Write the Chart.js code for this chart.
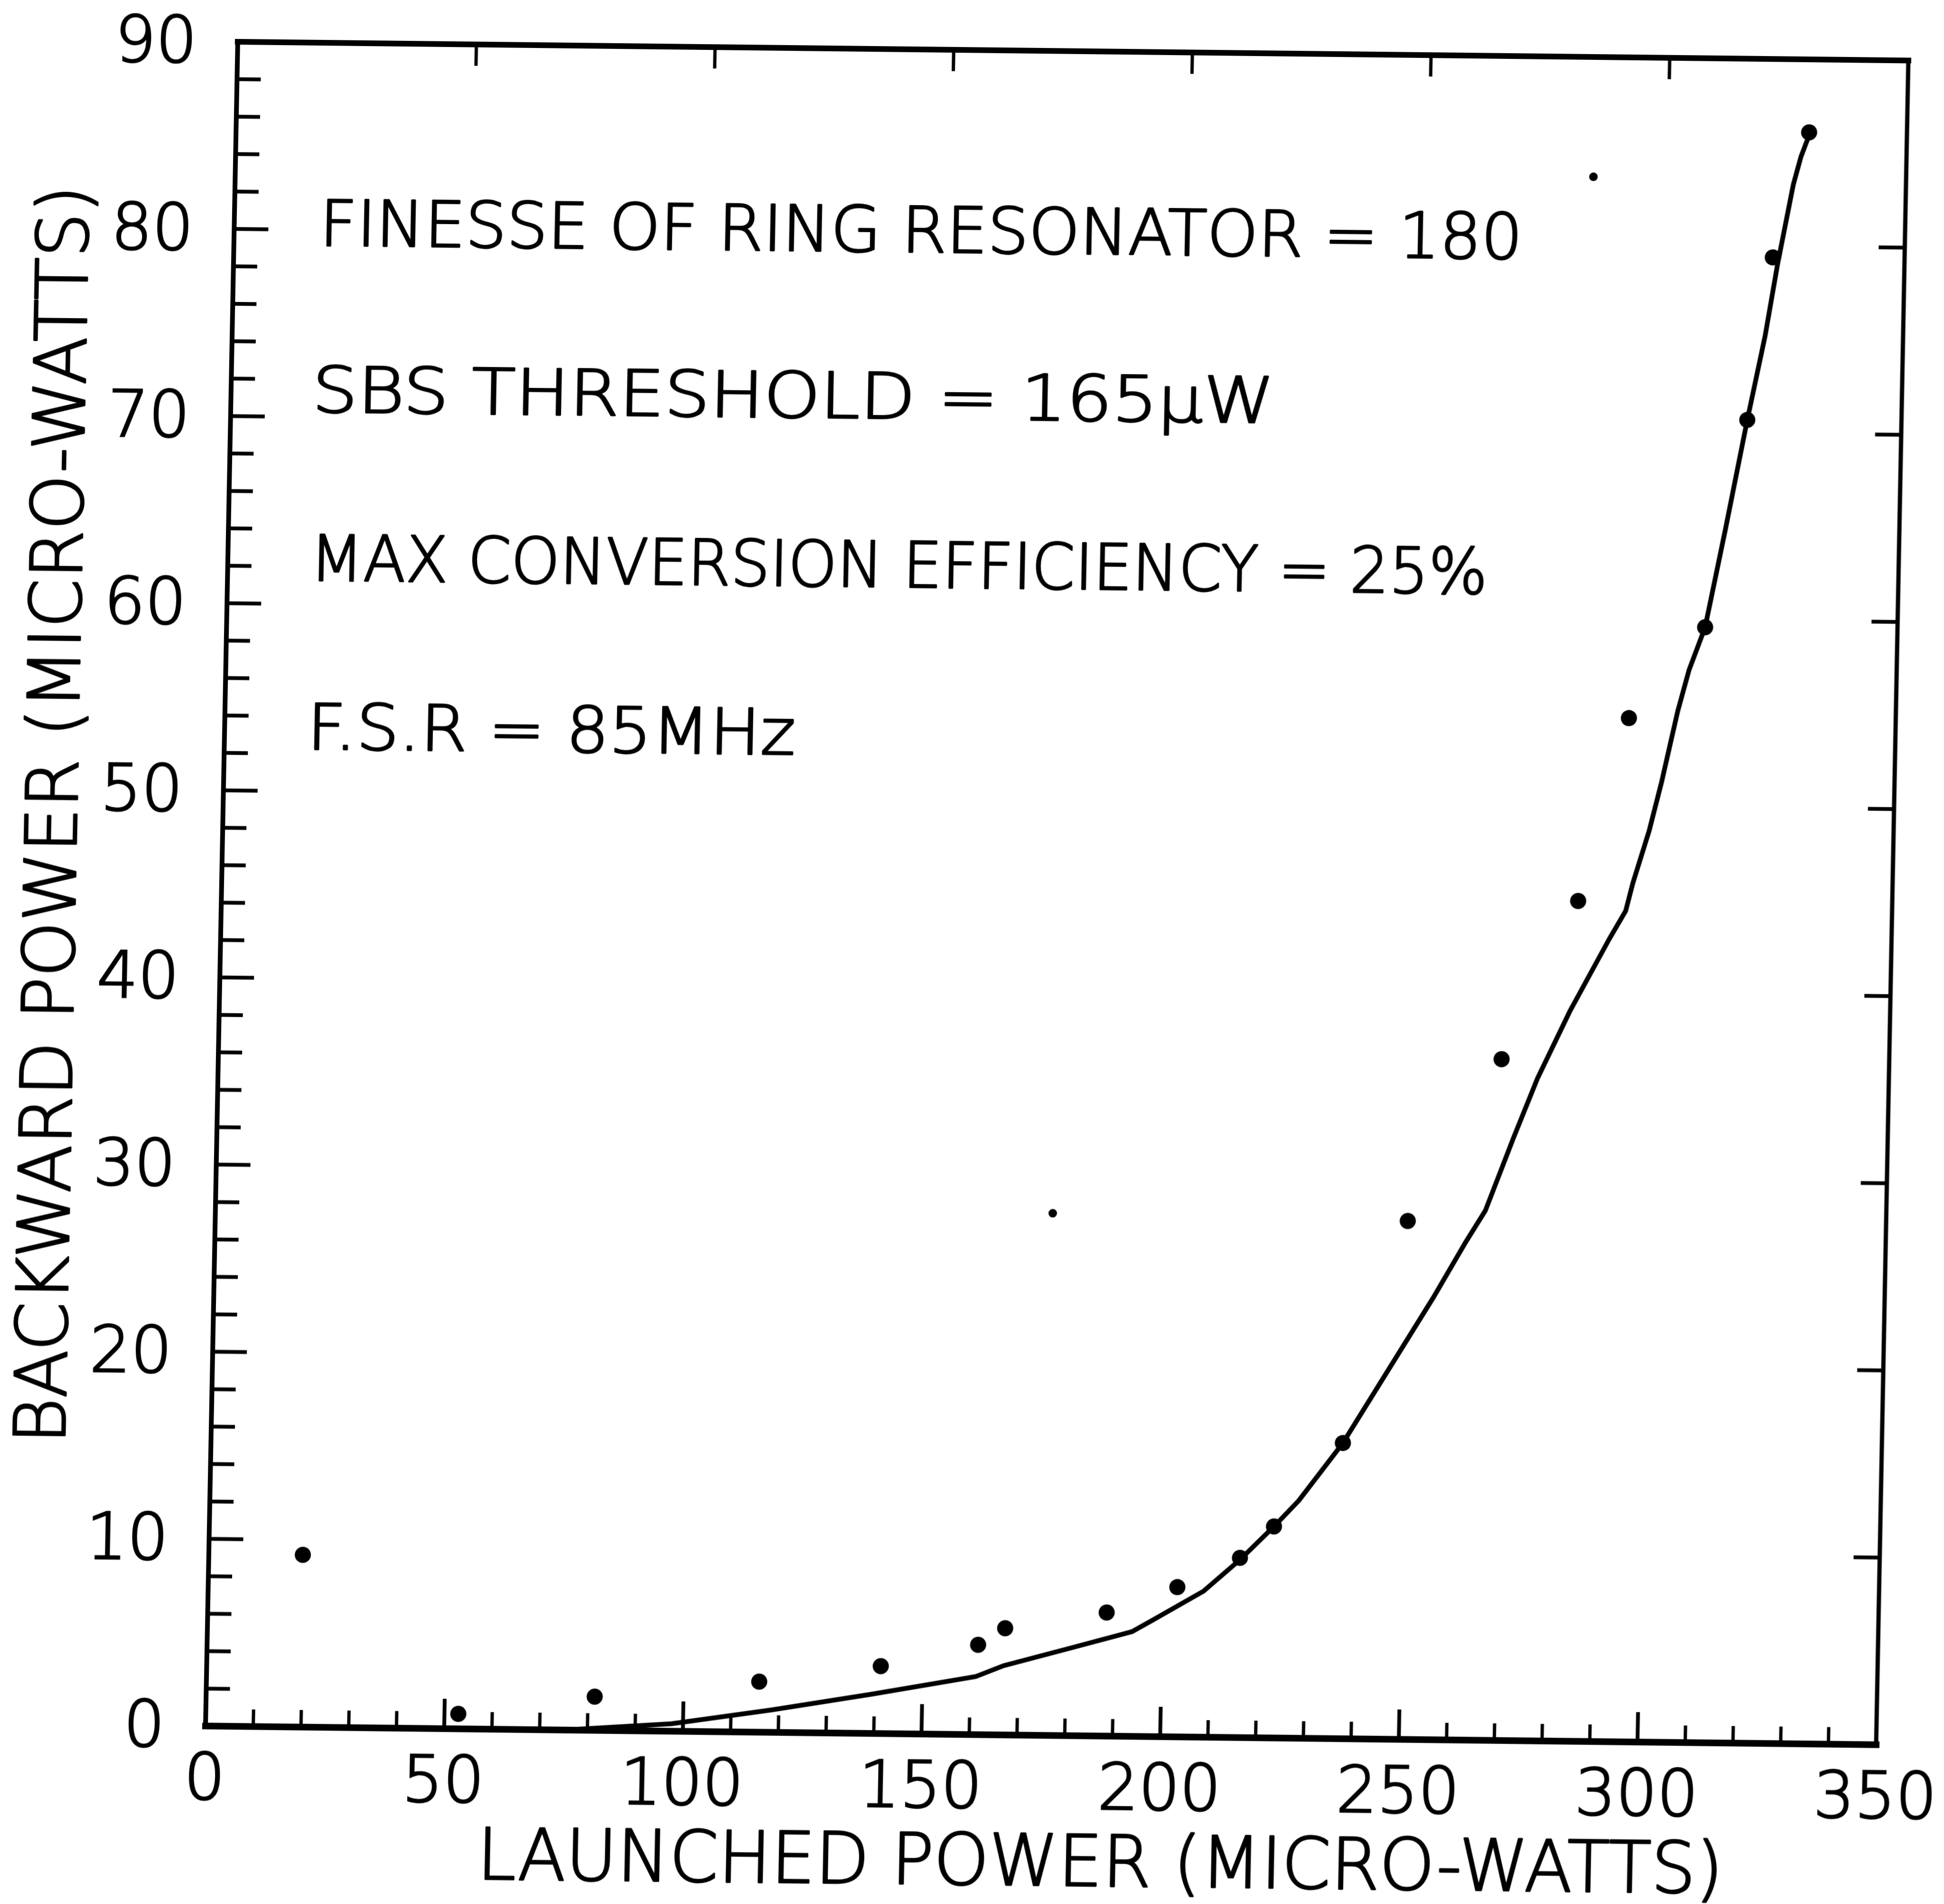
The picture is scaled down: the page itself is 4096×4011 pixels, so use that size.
<!DOCTYPE html>
<html>
<head>
<meta charset="utf-8">
<script src="https://cdn.jsdelivr.net/npm/chart.js@4.4.1/dist/chart.umd.min.js"></script>
<style>
  html, body { margin: 0; padding: 0; background: #fff; }
  /* the scanned figure is slightly tilted/sheared; mimic it on the whole canvas */
  #wrap {
    width: 4096px; height: 4011px; position: relative;
    transform-origin: 433px 3636px;
    transform: matrix(1, 0.0112, -0.01914, 1, 0, 0);
  }
</style>
</head>
<body>
<div id="wrap"><canvas id="chart"></canvas></div>
<script>
// Backward (SBS) power vs launched power, fibre ring resonator

const X_MAJOR = [0, 50, 100, 150, 200, 250, 300, 350];
const X_MINOR = [10, 20, 30, 40, 60, 70, 80, 90, 110, 120, 130, 140, 160, 170, 180, 190,
                 210, 220, 230, 240, 260, 270, 280, 290, 310, 320, 330, 340];
const Y_MAJOR = [0, 10, 20, 30, 40, 50, 60, 70, 80, 90];
const Y_MINOR = [2, 4, 6, 8, 12, 14, 16, 18, 22, 24, 26, 28, 32, 34, 36, 38, 42, 44, 46, 48,
                 52, 54, 56, 58, 62, 64, 66, 68, 72, 74, 76, 78, 82, 84, 86, 88];

// theoretical curve (solid line)
const curveX = [75, 97.6, 118.5, 139.4, 161.1, 166.9, 181.1, 193.7, 197.8, 208.5, 216.0, 223.0,
                228.1, 237.1, 255.4, 262.0, 266.0, 271.6, 276.4, 282.9, 290.9, 294.2, 295.6,
                298.8, 301.2, 304.3, 306.5, 309.7, 313.6, 317.7, 321.1, 323.4, 326.4, 327.9, 329.3];
const curveY = [0, 0.4, 1.2, 2.1, 3.1, 3.7, 4.7, 5.6, 6.2, 7.8, 9.5, 11.3,
                12.7, 15.8, 23.6, 26.6, 28.3, 32.2, 35.4, 39.0, 42.9, 44.4, 45.9,
                48.7, 51.3, 55.1, 57.3, 59.6, 64.9, 70.7, 75.2, 79.0, 83.3, 84.8, 85.8];

// measured points
const measX = [19.7, 52.9, 81.4, 115.8, 141.2, 161.5, 167.1, 188.3, 203.0, 216.0,
               223.0, 237.1, 249.8, 268.8, 284.2, 294.1, 309.7, 317.7, 322.4, 329.5];
const measY = [9.2, 0.8, 1.8, 2.7, 3.6, 4.8, 5.7, 6.6, 8.0, 9.6,
               11.3, 15.8, 27.7, 36.4, 44.9, 54.7, 59.6, 70.7, 79.4, 86.1];

// small specks on the scan
const speckX = [284.5, 175.4, -3.4];
const speckY = [83.6, 27.9, 86.5];

const X_TITLE = 'LAUNCHED POWER (MICRO-WATTS)';
const Y_TITLE = 'BACKWARD POWER (MICRO-WATTS)';
const NOTES = [
    'FINESSE OF RING RESONATOR = 180',
    'SBS THRESHOLD = 165\u03BCW',
    'MAX CONVERSION EFFICIENCY = 25%',
    'F.S.R = 85MHz'
];

const FONT = '"DejaVu Sans", "Liberation Sans", sans-serif';
const WEIGHT = '200';
const TEXT_STROKE = 3.5;   // thickens the light face a little, like the plotter pen

function pairs(xs, ys) {
    return xs.map((x, i) => ({ x, y: ys[i] }));
}

// text squeezed/stretched to a given width; left edge at x (or centred if rotated), caps centred on y
function fitText(ctx, text, x, y, width, size, rotate) {
    ctx.save();
    ctx.font = WEIGHT + ' ' + size + 'px ' + FONT;
    ctx.textBaseline = 'alphabetic';
    ctx.textAlign = 'left';
    ctx.lineJoin = 'round';
    ctx.lineWidth = TEXT_STROKE;
    const w = ctx.measureText(text).width;
    ctx.translate(x, y);
    if (rotate) ctx.rotate(-Math.PI / 2);
    ctx.scale(width / w, 1);
    const tx = rotate ? -w / 2 : 0;
    const ty = size * 0.729 / 2;
    ctx.fillText(text, tx, ty);
    ctx.strokeText(text, tx, ty);
    ctx.restore();
}

function seg(ctx, x1, y1, x2, y2, lw) {
    ctx.lineWidth = lw;
    ctx.beginPath();
    ctx.moveTo(x1, y1);
    ctx.lineTo(x2, y2);
    ctx.stroke();
}

const frameAndText = {
    id: 'frameAndText',
    afterDatasetsDraw(chart, args, opts) {
        const { ctx, chartArea: a, scales: { x, y } } = chart;
        ctx.save();
        ctx.strokeStyle = '#000';
        ctx.fillStyle = '#000';

        // box
        ctx.lineCap = 'square';
        seg(ctx, a.left, a.bottom, a.right, a.bottom, 14);
        seg(ctx, a.left, a.top, a.left, a.bottom, 10);
        seg(ctx, a.left, a.top, a.right, a.top, 12);
        seg(ctx, a.right, a.top, a.right, a.bottom, 9);

        // inward ticks
        ctx.lineCap = 'butt';
        Y_MINOR.forEach(v => { const p = y.getPixelForValue(v); seg(ctx, a.left, p, a.left + 50, p, 8); });
        Y_MAJOR.slice(1, -1).forEach(v => {
            const p = y.getPixelForValue(v);
            seg(ctx, a.left, p, a.left + 72, p, 8);
            seg(ctx, a.right, p, a.right - 55, p, 8);
        });
        X_MINOR.forEach(v => { const p = x.getPixelForValue(v); seg(ctx, p, a.bottom, p, a.bottom - 36, 7); });
        X_MAJOR.slice(1, -1).forEach(v => {
            const p = x.getPixelForValue(v);
            seg(ctx, p, a.bottom, p, a.bottom - 63, 8);
            seg(ctx, p, a.top, p, a.top + 45, 7);
        });

        // axis titles
        fitText(ctx, X_TITLE, a.left + opts.xTitle.dx - opts.xTitle.w / 2, a.bottom + opts.xTitle.dy,
                opts.xTitle.w, opts.titleSize, false);
        fitText(ctx, Y_TITLE, a.left + opts.yTitle.dx, a.top + opts.yTitle.dy,
                opts.yTitle.w, opts.titleSize, true);

        // parameter notes inside the plot
        NOTES.forEach((t, i) => {
            const n = opts.notes[i];
            fitText(ctx, t, x.getPixelForValue(n.x), y.getPixelForValue(n.y), n.w, opts.noteSize, false);
        });
        ctx.restore();
    }
};

const tickFont = { family: FONT, size: 136, weight: WEIGHT, lineHeight: 1 };

new Chart(document.getElementById('chart'), {
    type: 'scatter',
    data: {
        datasets: [
            {
                label: 'theory',
                data: pairs(curveX, curveY),
                showLine: true,
                tension: 0,
                borderColor: '#000',
                borderWidth: 10,
                pointRadius: 0
            },
            {
                label: 'measured',
                data: pairs(measX, measY),
                showLine: false,
                pointRadius: 17,
                pointBorderWidth: 0,
                pointBackgroundColor: '#000'
            },
            {
                label: 'specks',
                data: pairs(speckX, speckY),
                showLine: false,
                clip: false,
                pointRadius: 9,
                pointBorderWidth: 0,
                pointBackgroundColor: '#000'
            }
        ]
    },
    options: {
        responsive: true,
        maintainAspectRatio: false,
        animation: false,
        devicePixelRatio: 1,
        layout: { padding: { top: 88, right: 143, left: 0, bottom: 0 } },
        plugins: {
            legend: { display: false },
            tooltip: { enabled: false },
            frameAndText: {
                titleSize: 150,
                noteSize: 134,
                xTitle: { dx: 1890, dy: 261, w: 2625 },
                yTitle: { dx: -363, dy: 1632, w: 2651 },
                notes: [
                    { x: 17.9, y: 80.4, w: 2534 },
                    { x: 17.0, y: 71.5, w: 2027 },
                    { x: 17.2, y: 62.5, w: 2481 },
                    { x: 17.3, y: 53.5, w: 1029 }
                ]
            }
        },
        scales: {
            x: {
                type: 'linear',
                min: 0,
                max: 350,
                afterBuildTicks: s => { s.ticks = X_MAJOR.map(v => ({ value: v })); },
                afterFit: s => { s.height = 375; s.paddingLeft = 0; s.paddingRight = 0; },
                grid: { display: false, drawTicks: false },
                border: { display: false },
                ticks: {
                    font: tickFont, color: '#000', padding: 51, maxRotation: 0, autoSkip: false,
                    textStrokeColor: '#000', textStrokeWidth: TEXT_STROKE
                }
            },
            y: {
                type: 'linear',
                min: 0,
                max: 90,
                afterBuildTicks: s => { s.ticks = Y_MAJOR.map(v => ({ value: v })); },
                afterFit: s => { s.width = 433; s.paddingTop = 0; s.paddingBottom = 0; },
                grid: { display: false, drawTicks: false },
                border: { display: false },
                ticks: {
                    font: tickFont, color: '#000', padding: 86, labelOffset: 9, autoSkip: false,
                    textStrokeColor: '#000', textStrokeWidth: TEXT_STROKE
                }
            }
        }
    },
    plugins: [frameAndText]
});
</script>
</body>
</html>
